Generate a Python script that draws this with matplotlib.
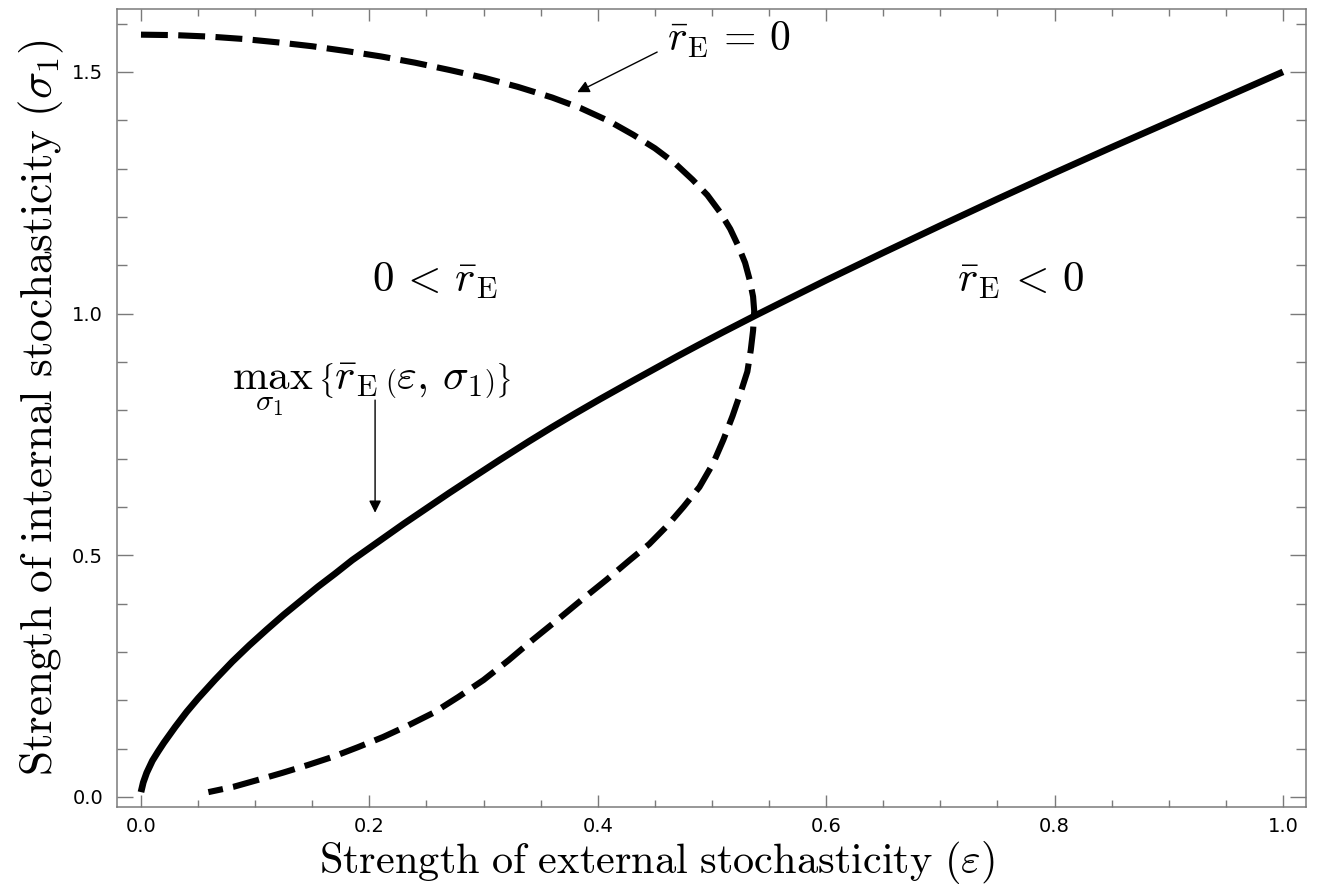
import matplotlib
matplotlib.use("Agg")
import matplotlib.pyplot as plt
from matplotlib.ticker import MultipleLocator

plt.rcParams["mathtext.fontset"] = "cm"

# optimum curve: max over sigma1 of r_E(eps, sigma1)
opt_eps = [0.0, 0.002, 0.005, 0.01, 0.015, 0.02, 0.03, 0.04, 0.05, 0.065, 0.08, 0.095,
           0.11, 0.125, 0.14, 0.155, 0.17, 0.185, 0.2, 0.215, 0.23, 0.25, 0.27, 0.29,
           0.314, 0.34, 0.36, 0.38, 0.402, 0.43, 0.45, 0.47, 0.489, 0.51, 0.538, 0.56,
           0.6, 0.65, 0.7, 0.75, 0.8, 0.85, 0.9, 0.95, 1.0]
opt_sig = [0.01, 0.03, 0.05, 0.075, 0.094, 0.112, 0.145, 0.176, 0.204, 0.243, 0.28, 0.314,
           0.346, 0.377, 0.406, 0.435, 0.462, 0.49, 0.515, 0.54, 0.565, 0.597, 0.629, 0.66,
           0.697, 0.736, 0.765, 0.793, 0.823, 0.86, 0.886, 0.912, 0.936, 0.962, 0.996, 1.022,
           1.069, 1.126, 1.182, 1.237, 1.291, 1.344, 1.396, 1.448, 1.50]

# boundary r_E = 0 (traced from the top-left end round to the bottom end)
zero_eps = [0.0, 0.03, 0.06, 0.09, 0.12, 0.15, 0.18, 0.21, 0.24, 0.27, 0.30, 0.33,
            0.36, 0.385, 0.41, 0.431, 0.45, 0.468, 0.483, 0.496, 0.507, 0.516, 0.523,
            0.529, 0.533, 0.536, 0.537, 0.536, 0.534, 0.531, 0.525, 0.518, 0.51, 0.501,
            0.489, 0.475, 0.46, 0.445, 0.428, 0.408, 0.387, 0.365, 0.343, 0.322, 0.30,
            0.278, 0.256, 0.234, 0.212, 0.19, 0.168, 0.146, 0.124, 0.102, 0.081, 0.059]
zero_sig = [1.577, 1.576, 1.573, 1.568, 1.561, 1.553, 1.543, 1.532, 1.519, 1.504, 1.488, 1.469,
            1.447, 1.425, 1.398, 1.37, 1.342, 1.31, 1.277, 1.245, 1.21, 1.175, 1.14,
            1.105, 1.07, 1.035, 1.005, 0.965, 0.925, 0.88, 0.836, 0.788, 0.739, 0.69,
            0.641, 0.60, 0.559, 0.523, 0.49, 0.45, 0.41, 0.367, 0.325, 0.283, 0.242,
            0.207, 0.174, 0.148, 0.124, 0.103, 0.083, 0.066, 0.05, 0.035, 0.021, 0.01]

XLIM = (-0.021, 1.020)
YLIM = (-0.0207, 1.630)

fig = plt.figure(figsize=(13.19, 8.86), dpi=100)
ax = fig.add_axes([0.0887, 0.0892, 0.9013, 0.9006])

ax.plot(opt_eps, opt_sig, color="black", lw=4.8, solid_capstyle="butt",
        solid_joinstyle="round")
ax.plot(zero_eps, zero_sig, color="black", lw=4.4, dashes=(4.4, 1.7))

ax.set_xlim(*XLIM)
ax.set_ylim(*YLIM)

ax.xaxis.set_major_locator(MultipleLocator(0.2))
ax.xaxis.set_minor_locator(MultipleLocator(0.05))
ax.yaxis.set_major_locator(MultipleLocator(0.5))
ax.yaxis.set_minor_locator(MultipleLocator(0.1))
ax.xaxis.set_major_formatter(lambda v, p: f"{v:.1f}")
ax.yaxis.set_major_formatter(lambda v, p: f"{v:.1f}")

frame = "#7a7a7a"
for s in ax.spines.values():
    s.set_color(frame)
    s.set_linewidth(1.1)
ax.tick_params(axis="both", which="both", direction="in", top=True, right=True,
               color=frame, width=1.0)
ax.tick_params(axis="x", which="major", length=8.5, pad=7)
ax.tick_params(axis="x", which="minor", length=5)
ax.tick_params(axis="y", which="major", length=11.5, pad=10)
ax.tick_params(axis="y", which="minor", length=7)
for lab in ax.get_xticklabels() + ax.get_yticklabels():
    lab.set_fontfamily("DejaVu Sans")
    lab.set_fontsize(14)

ax.set_xlabel(r"$\mathrm{Strength\ of\ external\ stochasticity}\ (\varepsilon)$",
              fontsize=30.5, labelpad=0)
ax.xaxis.set_label_coords(0.454, -0.040)
ax.set_ylabel(r"$\mathrm{Strength\ of\ internal\ stochasticity}\ (\sigma_1)$",
              fontsize=32.5, labelpad=4)

ax.text(0.257, 1.07, r"$0\,<\,\bar{r}_\mathrm{E}$", fontsize=31, ha="center", va="center")
ax.text(0.770, 1.07, r"$\bar{r}_\mathrm{E}\,<\,0$", fontsize=31, ha="center", va="center")

ax.text(0.461, 1.568, r"$\bar{r}_\mathrm{E}\,=\,0$", fontsize=30, ha="left", va="center")
ax.annotate("", xy=(0.382, 1.458), xytext=(0.452, 1.541),
            arrowprops=dict(arrowstyle="-|>", color="black", lw=1.0,
                            mutation_scale=18, shrinkA=0, shrinkB=0))

ax.text(0.202, 0.842,
        r"$\max_{\sigma_1}\,\left\{\bar{r}_\mathrm{E}\,\left(\varepsilon,\, \sigma_1\right)\right\}$",
        fontsize=31, ha="center", va="baseline")
ax.annotate("", xy=(0.205, 0.588), xytext=(0.205, 0.821),
            arrowprops=dict(arrowstyle="-|>", color="black", lw=1.0,
                            mutation_scale=18, shrinkA=0, shrinkB=0))

fig.savefig("out.png", dpi=100)
